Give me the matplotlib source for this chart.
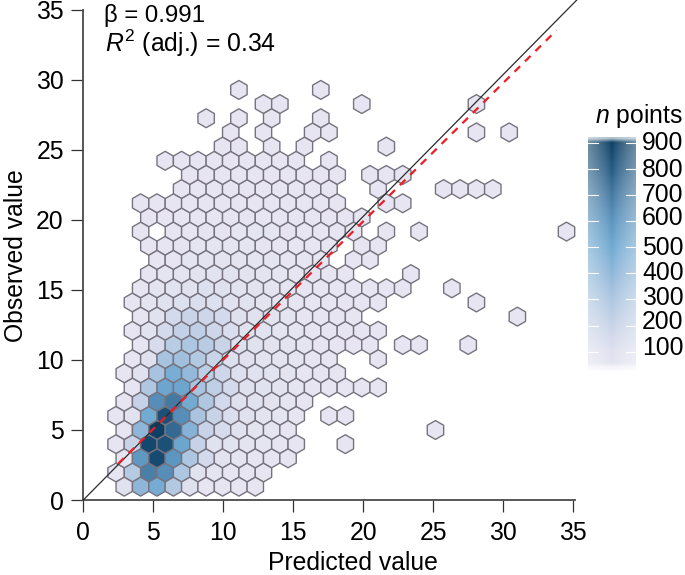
"""
Observed vs predicted hexbin with n points colour strip
"""
import numpy as np
from matplotlib import pyplot as plt
from matplotlib.colors import LinearSegmentedColormap, Normalize

plt.rcParams['font.family'] = ['Liberation Sans', 'DejaVu Sans']
plt.rcParams['mathtext.fontset'] = 'custom'
plt.rcParams['mathtext.rm'] = 'Liberation Sans'
plt.rcParams['mathtext.it'] = 'Liberation Sans:italic'

# per row of hexagons, bottom to top: first column and the bin counts (0 = empty)
row_start = [2, 2, 2, 2, 2, 2, 2, 3, 2, 3, 3, 3, 3, 3, 3, 4, 4, 4, 3, 4, 3, 6, 6, 5, 8, 9, 7, 11, 9]
row_counts = [
	[80, 400, 480, 280, 100, 30, 25, 25, 25],
	[30, 270, 680, 620, 300, 90, 40, 30, 25, 25],
	[40, 580, 860, 590, 300, 150, 60, 40, 30, 30, 25],
	[30, 200, 870, 840, 520, 210, 90, 70, 50, 40, 30, 30, 0, 0, 20],
	[30, 400, 900, 750, 430, 200, 140, 80, 50, 40, 30, 0, 0, 0, 0, 0, 0, 0, 0, 20],
	[30, 90, 490, 840, 620, 310, 200, 120, 80, 60, 40, 30, 0, 20, 20],
	[30, 210, 620, 700, 490, 290, 160, 100, 80, 60, 40, 30],
	[30, 290, 520, 520, 320, 230, 150, 100, 80, 60, 40, 30, 25, 25, 20, 20],
	[30, 80, 320, 470, 380, 240, 170, 110, 90, 70, 50, 30, 25, 20],
	[30, 100, 320, 340, 280, 190, 110, 80, 60, 50, 40, 30, 25, 0, 0, 20],
	[30, 140, 260, 300, 260, 190, 110, 80, 60, 50, 40, 30, 25, 25, 20, 0, 20, 20, 0, 0, 20],
	[30, 70, 150, 220, 230, 170, 130, 90, 70, 50, 40, 30, 30, 25, 20, 20],
	[30, 90, 150, 190, 170, 150, 100, 80, 60, 40, 30, 30, 25, 20, 0, 0, 0, 0, 0, 0, 0, 0, 0, 20],
	[30, 50, 80, 110, 120, 110, 90, 70, 50, 40, 30, 30, 25, 25, 20, 20, 0, 0, 0, 0, 0, 20],
	[30, 50, 70, 90, 110, 100, 70, 60, 50, 40, 30, 30, 25, 25, 20, 20, 20, 0, 0, 20],
	[30, 40, 50, 60, 70, 70, 60, 50, 40, 30, 30, 25, 20, 0, 0, 0, 20],
	[25, 30, 40, 50, 55, 50, 45, 40, 30, 30, 25, 0, 20, 20],
	[25, 30, 35, 40, 40, 40, 40, 35, 30, 30, 25, 20, 0, 20, 20],
	[20, 0, 25, 30, 35, 35, 40, 40, 40, 35, 30, 30, 25, 20, 0, 20, 0, 20, 0, 0, 0, 0, 0, 0, 0, 0, 20],
	[20, 25, 25, 30, 30, 35, 35, 30, 30, 25, 25, 25, 20, 20],
	[20, 20, 25, 25, 25, 30, 30, 30, 30, 25, 25, 25, 20, 0, 0, 20, 20],
	[20, 20, 25, 25, 25, 25, 25, 25, 20, 20, 0, 0, 20, 0, 0, 0, 20, 20, 20, 20],
	[20, 20, 20, 25, 25, 25, 25, 25, 20, 20, 0, 20, 20, 20],
	[20, 20, 20, 20, 20, 20, 20, 20, 20, 0, 20],
	[20, 20, 0, 20, 0, 20, 0, 0, 0, 0, 20],
	[20, 0, 20, 0, 0, 20, 20, 0, 0, 0, 0, 0, 0, 0, 0, 20, 0, 20],
	[20, 0, 20, 0, 20, 0, 0, 20],
	[20, 20, 0, 0, 0, 0, 20, 0, 0, 0, 0, 0, 0, 20],
	[20, 0, 0, 0, 0, 20],
]

xticks = [0, 5, 10, 15, 20, 25, 30, 35]
yticks = [0, 5, 10, 15, 20, 25, 30, 35]
identity_x = [0, 35.25]
identity_y = [0, 35.71]
fit_x = [2.5, 33.8]
fit_y = [2.6, 33.55]

strip_ticks = [100, 200, 300, 400, 500, 600, 700, 800, 900]
strip_label_y = [114, 214, 306, 402, 498, 613, 701, 797, 900]

cmap_values = [0, 100, 200, 300, 400, 500, 600, 700, 800, 900]
cmap_colors = ['#e9e6f2', '#dfe1ef', '#c7d3e7', '#adc6e1', '#8fb6d9', '#70a9d1',
	'#5a94bf', '#467aa2', '#255a83', '#0d4065']

COL_W = 1.17
ROW_H = 1.012
ROW_OFF = -0.06
W, H = 685.0, 575.0


def px_axes(fig, left, top, right, bottom):
	return fig.add_axes([left / W, 1 - bottom / H, (right - left) / W, (bottom - top) / H])


def hex_centres():
	xs, ys, cs = [], [], []
	for r, (start, counts) in enumerate(zip(row_start, row_counts), 1):
		shift = 0.5 if r % 2 else 0.0
		for k, c in enumerate(counts, start):
			if c > 0:
				xs.append((k + shift) * COL_W)
				ys.append(r * ROW_H + ROW_OFF)
				cs.append(c)
	return np.array(xs), np.array(ys), np.array(cs, dtype=float)


cmap = LinearSegmentedColormap.from_list('npoints', [(v / 900, c) for v, c in zip(cmap_values, cmap_colors)])
norm = Normalize(0, 900)

fig = plt.figure(figsize=(6.85, 5.75), dpi=100)
ax = px_axes(fig, 83.3, 0, 583.1, 500)
ax.set_xlim(0, 35.7)
ax.set_ylim(0, 35.71)

xs, ys, cs = hex_centres()
ax.hexbin(xs, ys, C=cs, reduce_C_function=np.sum, gridsize=(30, 15),
	extent=(0, 30 * COL_W, ROW_OFF, ROW_OFF + 15 * 2 * ROW_H),
	cmap=cmap, norm=norm, edgecolors='#77737e', linewidths=1.0, clip_on=False)

ax.plot(identity_x, identity_y, color='#2b2b2b', lw=0.9, zorder=3, clip_on=False)
ax.plot(fit_x, fit_y, color='#ee1c25', lw=1.6, dashes=(3.5, 3.1), zorder=4, clip_on=False)

for side in ['top', 'right']:
	ax.spines[side].set_visible(False)
ax.spines['bottom'].set_bounds(0, 35.1)
ax.spines['left'].set_bounds(0, 35)
for side in ['bottom', 'left']:
	ax.spines[side].set_linewidth(1.3)
	ax.spines[side].set_color('#4a4a4a')
ax.set_xticks(xticks)
ax.set_yticks(yticks)
ax.tick_params(axis='both', length=8.5, width=0.9, color='#333333', labelsize=17.8)
ax.tick_params(axis='y', pad=5.5)
ax.tick_params(axis='x', pad=6.5)
ax.set_xlabel('Predicted value', fontsize=17.8)
ax.set_ylabel('Observed value', fontsize=17.8)
ax.xaxis.set_label_coords(0.54, -0.102)
ax.yaxis.set_label_coords(-0.11, 0.488)

fig.text(104 / W, 1 - 22 / H, '\u03b2 = 0.991', fontsize=17.3, va='baseline', ha='left')
fig.text(105 / W, 1 - 52 / H, '$\\mathit{R}^{2}$ (adj.) = 0.34', fontsize=17.8, va='baseline', ha='left')
fig.text(595 / W, 1 - 123 / H, '$\\mathit{n}$ points', fontsize=17.8, va='baseline', ha='left')

# colour strip, dark in the middle and washed out to the sides and ends
cax = px_axes(fig, 588, 136.7, 636, 370)
strip_v = np.linspace(923, 30, 240)
rgba = cmap(norm(strip_v))[:, None, :].repeat(49, axis=1)
u = np.abs(np.linspace(-1, 1, 49))
side_fade = 1 - 0.38 * u ** 0.8
rgba[:, :, :3] = rgba[:, :, :3] * side_fade[None, :, None] + (1 - side_fade[None, :, None])
end_fade = np.clip((923 - strip_v) / 22, 0.35, 1) * np.clip((strip_v - 30) / 25, 0.35, 1)
rgba[:, :, 3] = end_fade[:, None]
cax.imshow(rgba, extent=(0, 1, 30, 923), aspect='auto', origin='upper', interpolation='bilinear')
cax.set_xlim(0, 1)
cax.set_ylim(30, 923)
cax.axis('off')
for tick in strip_ticks:
	cax.plot([0, 0.2], [tick, tick], color='white', lw=0.8)
	cax.plot([0.8, 1], [tick, tick], color='white', lw=0.8)
for tick, label_y in zip(strip_ticks, strip_label_y):
	cax.text(1.99, label_y, str(tick), fontsize=17.8, va='center', ha='right', clip_on=False)

plt.savefig('out.png', dpi=100)
plt.close()
